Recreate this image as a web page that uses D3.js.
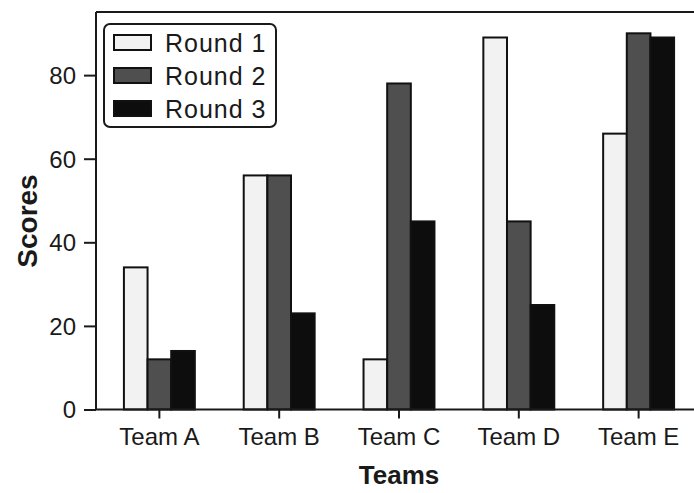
<!DOCTYPE html>
<html>
<head>
<meta charset="utf-8">
<script src="https://cdn.jsdelivr.net/npm/d3@7"></script>
<style>
  html, body { margin: 0; padding: 0; background: #fff; }
  svg { display: block; }
  text { font-family: "Liberation Sans", Arial, Helvetica, sans-serif; fill: #1a1a1a; }
</style>
</head>
<body>
<svg id="chart" width="694" height="493"></svg>
<script>
const teams = ["Team A", "Team B", "Team C", "Team D", "Team E"];
const seriesNames = ["Round 1", "Round 2", "Round 3"];
const round1 = [34, 56, 12, 89, 66];
const round2 = [12, 56, 78, 45, 90];
const round3 = [14, 23, 45, 25, 89];
const yTicks = [0, 20, 40, 60, 80];
const xTitle = "Teams";
const yTitle = "Scores";

const seriesValues = [round1, round2, round3];
const fills = ["#f2f2f2", "#4f4f4f", "#0d0d0d"];

const svg = d3.select("#chart");
const plotLeft = 96, plotRight = 702, plotTop = 12, plotBottom = 409.5;

const x0 = d3.scaleBand().domain(teams).range([plotLeft, plotRight])
  .paddingInner(0.408).paddingOuter(0.233);
const x1 = d3.scaleBand().domain(seriesNames).range([0, x0.bandwidth()]).padding(0);
const y = d3.scaleLinear().domain([0, 95.1]).range([plotBottom, plotTop]);

// frame top line
svg.append("line").attr("x1", plotLeft).attr("x2", 694).attr("y1", plotTop).attr("y2", plotTop)
  .attr("stroke", "#1a1a1a").attr("stroke-width", 2);

// bars
const groups = svg.append("g").selectAll("g").data(teams).join("g")
  .attr("transform", d => `translate(${x0(d)},0)`);
groups.selectAll("rect")
  .data((d, i) => seriesNames.map((s, j) => ({ s, j, v: seriesValues[j][i] })))
  .join("rect")
  .attr("x", d => x1(d.s))
  .attr("y", d => y(d.v))
  .attr("width", x1.bandwidth())
  .attr("height", d => y(0) - y(d.v))
  .attr("fill", d => fills[d.j])
  .attr("stroke", "#111")
  .attr("stroke-width", 2);

// y axis
const yAxis = d3.axisLeft(y).tickValues(yTicks).tickSize(12).tickPadding(8);
const gy = svg.append("g").attr("transform", `translate(${plotLeft},0)`).call(yAxis);
gy.select(".domain").attr("d", `M0,${plotTop}V${plotBottom}`).attr("stroke", "#1a1a1a").attr("stroke-width", 2);
gy.selectAll(".tick line").attr("stroke", "#1a1a1a").attr("stroke-width", 2);
gy.selectAll(".tick text").attr("font-size", 24).attr("fill", "#1a1a1a").attr("dy", "0.35em");

// x axis
const xAxis = d3.axisBottom(x0).tickSize(9).tickPadding(9).tickSizeOuter(0);
const gx = svg.append("g").attr("transform", `translate(0,${plotBottom})`).call(xAxis);
gx.select(".domain").attr("d", `M${plotLeft},0H694`).attr("stroke", "#1a1a1a").attr("stroke-width", 2);
gx.selectAll(".tick line").attr("stroke", "#1a1a1a").attr("stroke-width", 2);
gx.selectAll(".tick text").attr("font-size", 24).attr("fill", "#1a1a1a");

// axis titles
svg.append("text").attr("x", (plotLeft + plotRight) / 2).attr("y", 484)
  .attr("text-anchor", "middle").attr("font-size", 26).attr("font-weight", "bold").text(xTitle);
svg.append("text").attr("transform", `translate(37,221) rotate(-90)`)
  .attr("text-anchor", "middle").attr("font-size", 28).attr("font-weight", "bold").text(yTitle);

// legend
const lg = svg.append("g");
lg.append("rect").attr("x", 104).attr("y", 24).attr("width", 172).attr("height", 103)
  .attr("rx", 6).attr("fill", "#fff").attr("stroke", "#1a1a1a").attr("stroke-width", 2);
const items = lg.selectAll("g.item").data(seriesNames).join("g").attr("class", "item")
  .attr("transform", (d, i) => `translate(114,${42 + i * 33})`);
items.append("rect").attr("x", 0).attr("y", -7).attr("width", 37).attr("height", 15)
  .attr("fill", (d, i) => fills[i]).attr("stroke", "#111").attr("stroke-width", 2);
items.append("text").attr("x", 51).attr("y", 1).attr("dy", "0.36em")
  .attr("font-size", 25).attr("letter-spacing", 1).text(d => d);
</script>
</body>
</html>
